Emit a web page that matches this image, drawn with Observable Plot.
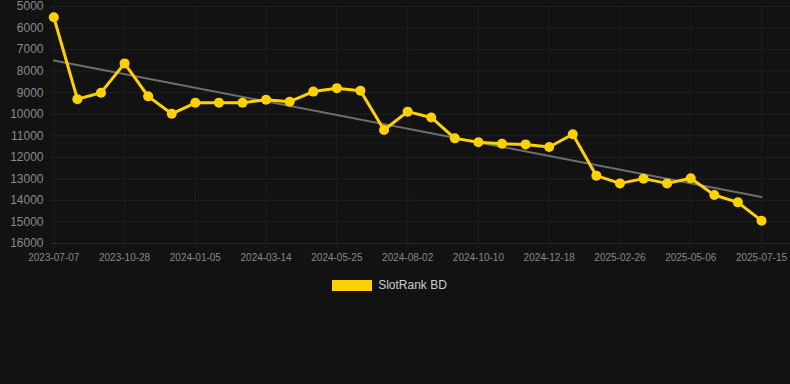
<!DOCTYPE html>
<html><head><meta charset="utf-8">
<script src="https://cdn.jsdelivr.net/npm/d3@7"></script>
<script src="https://cdn.jsdelivr.net/npm/@observablehq/plot@0.6"></script>
<style>
html,body{margin:0;padding:0;background:#121212;}
body{width:790px;height:384px;overflow:hidden;font-family:"Liberation Sans",Arial,sans-serif;}
#chart svg{display:block;}
#legend{display:flex;justify-content:center;align-items:center;gap:6px;margin-top:8px;padding-right:11px;color:#cccccc;font-size:12px;line-height:14px;}
.sw{display:inline-block;width:40px;height:11px;background:#FFD100;}
</style></head><body>
<div id="chart"></div>
<div id="legend"><span class="sw"></span><span id="lname"></span></div>
<script>
const seriesName = "SlotRank BD";
const dates = [
  "2023-07-07","2023-08-14","2023-09-21","2023-10-28","2023-11-20","2023-12-13",
  "2024-01-05","2024-01-28","2024-02-20","2024-03-14","2024-04-07","2024-05-01",
  "2024-05-25","2024-06-17","2024-07-10","2024-08-02","2024-08-25","2024-09-17",
  "2024-10-10","2024-11-02","2024-11-25","2024-12-18","2025-01-10","2025-02-03",
  "2025-02-26","2025-03-21","2025-04-13","2025-05-06","2025-05-29","2025-06-22",
  "2025-07-15"
];
const ranks = [
  5500, 9300, 9000, 7640, 9170, 9980,
  9470, 9470, 9470, 9330, 9420, 8950,
  8790, 8910, 10730, 9880, 10150, 11120,
  11300, 11370, 11400, 11520, 10930, 12850,
  13210, 12990, 13210, 12970, 13750, 14090,
  14940
];
const yTicks = [5000,6000,7000,8000,9000,10000,11000,12000,13000,14000,15000,16000];

const data = dates.map((d, i) => ({i, date: d, rank: ranks[i]}));
const labelIdx = dates.map((d, i) => i).filter(i => i % 3 === 0);

document.getElementById("lname").textContent = seriesName;

const chart = Plot.plot({
  width: 790, height: 270,
  marginLeft: 50, marginRight: 0, marginTop: 6, marginBottom: 27,
  style: {background: "#121212", color: "#888", fontFamily: "'Liberation Sans', Arial, sans-serif"},
  x: {type: "linear", domain: [-0.14, 31.23]},
  y: {domain: [5000, 16000], reverse: true},
  marks: [
    Plot.gridY(yTicks, {stroke: "#202020", strokeOpacity: 1}),
    Plot.gridX(labelIdx, {stroke: "#1c1c1c", strokeOpacity: 1}),
    Plot.ruleY([16000], {stroke: "#282828"}),
    Plot.axisY(yTicks, {tickSize: 0, tickPadding: 7, fontSize: 12, fill: "#8a8a8a", tickFormat: d => String(d), label: null}),
    Plot.axisX(labelIdx, {tickSize: 5, stroke: "#1e1e1e", tickPadding: 5, fontSize: 10, fill: "#888", tickFormat: i => dates[i], label: null}),
    Plot.linearRegressionY(data, {x: "i", y: "rank", stroke: "#6e6e6e", strokeWidth: 2, ci: 0}),
    Plot.line(data, {x: "i", y: "rank", stroke: "#FFD100", strokeWidth: 3}),
    Plot.dot(data, {x: "i", y: "rank", r: 5, fill: "#FFD100", stroke: "none"})
  ]
});
document.getElementById("chart").appendChild(chart);
</script>
</body></html>
